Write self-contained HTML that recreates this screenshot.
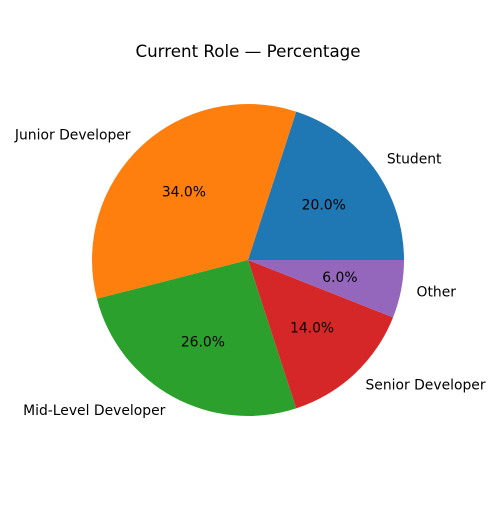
<!DOCTYPE html>
<html><head><meta charset="utf-8"><style>
body{margin:0;background:#fff}
svg text{font-family:"DejaVu Sans","Liberation Sans",sans-serif;fill:#000}
</style></head><body>
<svg id="chart" width="500" height="500" xmlns="http://www.w3.org/2000/svg">
<rect width="500" height="500" fill="#fff"/>
<text x="248" y="57" font-size="16.7" text-anchor="middle">Current Role — Percentage</text>
<g id="slices"></g>
</svg>
<script>
const categories = ["Student","Junior Developer","Mid-Level Developer","Senior Developer","Other"];
const values = [20,34,26,14,6];
const colors = ["#1f77b4","#ff7f0e","#2ca02c","#d62728","#9467bd"];
const cx=248, cy=260, r=156;
const g=document.getElementById('slices');
const NS='http://www.w3.org/2000/svg';
const total=values.reduce((a,b)=>a+b,0);
function pt(a,rr){return [cx+rr*Math.cos(a), cy-rr*Math.sin(a)];}
let start=0;
values.forEach((v,i)=>{
  const sweep=v/total*2*Math.PI, end=start+sweep;
  const [x1,y1]=pt(start,r),[x2,y2]=pt(end,r);
  const p=document.createElementNS(NS,'path');
  p.setAttribute('d',`M${cx},${cy}L${x1},${y1}A${r},${r} 0 ${sweep>Math.PI?1:0} 0 ${x2},${y2}Z`);
  p.setAttribute('fill',colors[i]);
  
  
  g.appendChild(p);
  const mid=(start+end)/2;
  const [lx,ly]=pt(mid,r*1.1);
  const t=document.createElementNS(NS,'text');
  t.setAttribute('x',lx);t.setAttribute('y',ly+4.5);t.setAttribute('font-size','13.9');
  t.setAttribute('text-anchor',Math.cos(mid)>=0?'start':'end');
  t.textContent=categories[i];
  
  
  g.appendChild(t);
  const [px,py]=pt(mid,r*0.6);
  const q=document.createElementNS(NS,'text');
  q.setAttribute('x',px);q.setAttribute('y',py+4.5);q.setAttribute('font-size','13.9');
  q.setAttribute('text-anchor','middle');
  q.textContent=(v/total*100).toFixed(1)+'%';
  
  
  g.appendChild(q);
  start=end;
});
</script>
</body></html>
